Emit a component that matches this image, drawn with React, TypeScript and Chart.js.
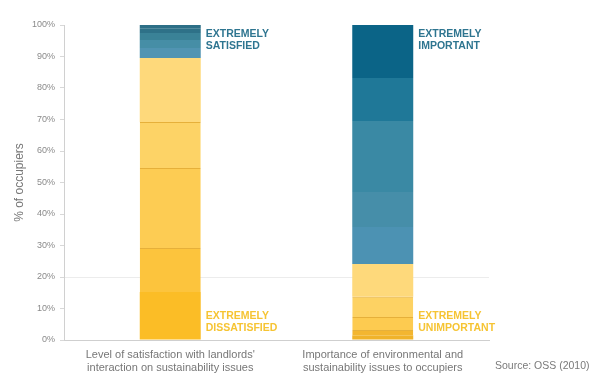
import React, { useEffect, useRef } from "react";
import { Chart, registerables } from "chart.js";

Chart.register(...registerables);

const FONT = '"Liberation Sans", Arial, sans-serif';

const categories = [
  ["Level of satisfaction with landlords'", "interaction on sustainability issues"],
  ["Importance of environmental and", "sustainability issues to occupiers"],
];

// Share of occupiers (%) at each response level, 1 (lowest) to 10 (highest)
const responseLevels = ["1", "2", "3", "4", "5", "6", "7", "8", "9", "10"];
const satisfaction = [15.2, 14.0, 25.4, 14.6, 20.3, 3.2, 2.5, 2.3, 1.5, 1.0];
const importance = [1.5, 1.7, 4.1, 6.4, 10.4, 11.8, 11.1, 22.5, 13.7, 16.8];

const satisfactionColors = [
  "#fbbd26", "#fcc43d", "#fdcc53", "#fdd366", "#fed97b",
  "#5194b2", "#468ea6", "#3a8297", "#2e7188", "#2d6f87",
];
const importanceColors = [
  "#f0b32a", "#f3b630", "#fdcb50", "#fdd263", "#fed97b",
  "#4c92b3", "#468ea9", "#3a89a4", "#1f7898", "#0b6487",
];
const segmentEdge = "#e6b03a";

const yTicks = [0, 10, 20, 30, 40, 50, 60, 70, 80, 90, 100];
const topLabels = [["EXTREMELY", "SATISFIED"], ["EXTREMELY", "IMPORTANT"]];
const bottomLabels = [["EXTREMELY", "DISSATISFIED"], ["EXTREMELY", "UNIMPORTANT"]];
const yTitle = "% of occupiers";
const sourceNote = "Source: OSS (2010)";

// Writes the scale-end captions beside each bar and the source note
const endLabels = {
  id: "endLabels",
  afterDatasetsDraw(chart: any) {
    const { ctx, scales, chartArea } = chart;
    const y = scales.y;
    const meta = chart.getDatasetMeta(0);
    const top = y.getPixelForValue(100);
    const bottom = y.getPixelForValue(0);
    ctx.save();
    ctx.textAlign = "left";
    ctx.textBaseline = "middle";
    ctx.font = `bold 10.5px ${FONT}`;
    meta.data.forEach((bar: any, i: number) => {
      const p = bar.getProps(["x", "width"], true);
      const x = p.x + p.width / 2 + 5;
      ctx.fillStyle = "#2e7590";
      topLabels[i].forEach((t, k) => ctx.fillText(t, x, top + 9 + k * 12));
      ctx.fillStyle = "#f6c433";
      bottomLabels[i].forEach((t, k) => ctx.fillText(t, x, bottom - 23.5 + k * 12));
    });
    ctx.font = `10.5px ${FONT}`;
    ctx.fillStyle = "#7a7a7a";
    ctx.fillText(sourceNote, chartArea.right + 6, 366);
    ctx.restore();
  },
};

export default function App() {
  const canvasRef = useRef<HTMLCanvasElement | null>(null);

  useEffect(() => {
    const canvas = canvasRef.current;
    if (!canvas) return;

    const datasets = responseLevels.map((level, i) => ({
      label: level,
      data: [satisfaction[i], importance[i]],
      backgroundColor: [satisfactionColors[i], importanceColors[i]],
      borderColor: segmentEdge,
      borderWidth: i > 0 && i < 4 ? { top: 1, right: 0, bottom: 0, left: 0 } : 0,
      borderSkipped: "start" as const,
      barPercentage: 1,
      categoryPercentage: 0.287,
    }));

    const chart = new Chart(canvas, {
      type: "bar",
      data: { labels: categories, datasets },
      plugins: [endLabels],
      options: {
        responsive: false,
        animation: false,
        layout: { padding: { top: 25, right: 107, bottom: 0, left: 0 } },
        plugins: { legend: { display: false }, tooltip: { enabled: false } },
        scales: {
          x: {
            stacked: true,
            afterFit: (scale: any) => {
              scale.height = 36;
            },
            grid: { display: false },
            border: { display: true, color: "#cfcfcf", dash: [2, 2] },
            ticks: {
              padding: 0,
              color: "#777",
              font: { family: FONT, size: 11, lineHeight: 1.2 },
              maxRotation: 0,
            },
          },
          y: {
            stacked: true,
            min: 0,
            max: 100,
            afterBuildTicks: (scale: any) => {
              scale.ticks = yTicks.map((v) => ({ value: v }));
            },
            afterFit: (scale: any) => {
              scale.width = 64;
            },
            grid: {
              color: (c: any) => (c.tick && c.tick.value === 20 ? "#ececec" : "rgba(0,0,0,0)"),
              tickColor: "#d8d8d8",
              drawTicks: true,
              tickLength: 4,
            },
            border: { display: true, color: "#d0d0d0" },
            ticks: {
              padding: 5,
              color: "#8a8a8a",
              font: { family: FONT, size: 9 },
              callback: (v: any) => `${v}%`,
            },
            title: {
              display: true,
              text: yTitle,
              color: "#777",
              padding: { top: 12, bottom: 0 },
              font: { family: FONT, size: 12 },
            },
          },
        },
      },
    });

    return () => chart.destroy();
  }, []);

  return (
    <div style={{ position: "fixed", left: 0, top: 0, width: 596, height: 376, background: "#fff" }}>
      <canvas ref={canvasRef} width={596} height={376} />
    </div>
  );
}
